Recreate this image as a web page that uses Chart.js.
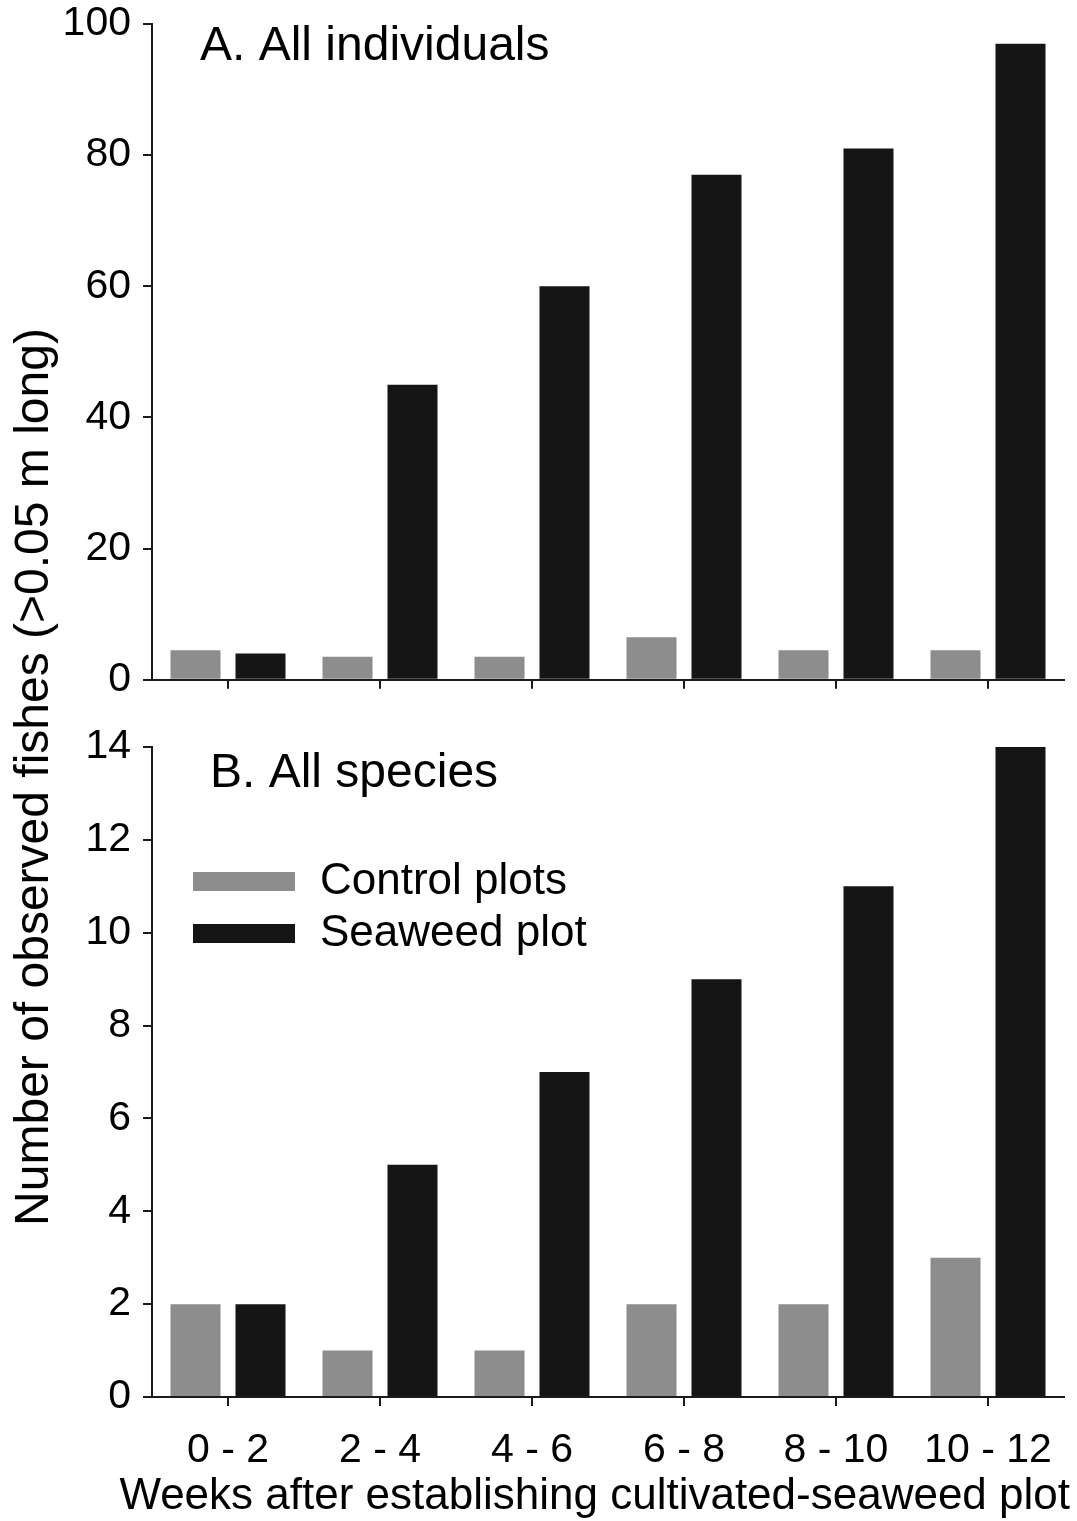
<!DOCTYPE html>
<html>
<head>
<meta charset="utf-8">
<script src="https://cdn.jsdelivr.net/npm/chart.js@4"></script>
<style>
    body{ margin:0; background:#fff; width:1077px; height:1521px; position:relative; overflow:hidden; font-family:"Liberation Sans", Arial, sans-serif; }
    .panel{ position:absolute; left:0; width:1077px; }
    #panelA{ top:0; height:700px; }
    #panelB{ top:700px; height:821px; }
    #yTitle{
        position:absolute; width:1000px; left:-468px; top:753px; height:48px;
        font-size:48px; line-height:48px; text-align:center; color:#000;
        transform:rotate(-90deg); transform-origin:50% 50%; white-space:nowrap;
    }
</style>
</head>
<body>
<div class="panel" id="panelA"><canvas id="chartA"></canvas></div>
<div class="panel" id="panelB"><canvas id="chartB"></canvas></div>
<div id="yTitle">Number of observed fishes (&gt;0.05 m long)</div>
<script>
const weeks = ['0 - 2', '2 - 4', '4 - 6', '6 - 8', '8 - 10', '10 - 12'];
const seriesNames = ['Control plots', 'Seaweed plot'];
const xTitle = 'Weeks after establishing cultivated-seaweed plot';
// A. 개체수
const controlIndividuals = [4.5, 3.5, 3.5, 6.5, 4.5, 4.5];
const seaweedIndividuals = [4, 45, 60, 77, 81, 97];
// B. 종수
const controlSpecies = [2, 1, 1, 2, 2, 3];
const seaweedSpecies = [2, 5, 7, 9, 11, 14];

const FONT = '"Liberation Sans", Arial, sans-serif';
const GRAY = '#8d8d8d';
const BLACK = '#151515';
const AXIS = '#1a1a1a';

Chart.defaults.font.family = FONT;
Chart.defaults.color = '#000';

// 패널 제목 + 범례 + x축 제목 (scale title은 maxWidth로 눌려서 직접 그림)
const panelText = {
    id: 'panelText',
    afterDraw(chart, args, opts){
        const ctx = chart.ctx;
        const area = chart.chartArea;
        ctx.save();
        ctx.fillStyle = '#000';
        ctx.textBaseline = 'alphabetic';
        ctx.font = '48px ' + FONT;
        ctx.fillText(opts.text, area.left + opts.dx, area.top + opts.dy);
        if(opts.legend){
            ctx.font = '44px ' + FONT;
            ctx.textBaseline = 'middle';
            chart.data.datasets.forEach((ds, i) => {
                const y = area.top + 134 + i * 52;
                ctx.fillStyle = ds.backgroundColor;
                ctx.fillRect(area.left + 41, y - 9, 102, 19);
                ctx.fillStyle = '#000';
                ctx.fillText(ds.label, area.left + 168, y + 1);
            });
        }
        if(opts.xTitle){
            ctx.font = '44px ' + FONT;
            ctx.textBaseline = 'middle';
            ctx.textAlign = 'right';
            ctx.fillStyle = '#000';
            ctx.fillText(opts.xTitle, area.right + 6, area.bottom + 100);
        }
        ctx.restore();
    }
};

class Panel{
    constructor(canvasName, control, seaweed, yMax, step){
        this.ctx = document.getElementById(canvasName).getContext('2d');
        this.control = control;
        this.seaweed = seaweed;
        this.yMax = yMax;
        this.step = step;
        this.showLabels = false;
        this.padTop = 24;
        this.xHeight = 20;
        this.title = '';
        this.titleDx = 48;
        this.titleDy = 36;
        this.legend = false;
    }
    draw(){
        const showLabels = this.showLabels;
        const xHeight = this.xHeight;
        const barSet = {
            categoryPercentage: 0.855,
            barPercentage: 0.77,
            borderWidth: 0
        };
        this.chart = new Chart(this.ctx, {
            type: 'bar',
            data: {
                labels: weeks,
                datasets: [
                    Object.assign({ label: seriesNames[0], data: this.control, backgroundColor: GRAY }, barSet),
                    Object.assign({ label: seriesNames[1], data: this.seaweed, backgroundColor: BLACK }, barSet)
                ]
            },
            options: {
                responsive: true,
                maintainAspectRatio: false,
                animation: false,
                layout: { padding: { top: this.padTop, right: 13, left: 0, bottom: 0 } },
                scales: {
                    x: {
                        grid: { offset: false, drawOnChartArea: false, drawTicks: true, tickLength: 9, color: AXIS, lineWidth: 2 },
                        border: { display: true, color: AXIS, width: 2 },
                        ticks: {
                            font: { size: 41, lineHeight: 1 },
                            color: '#000',
                            padding: 24,
                            maxRotation: 0,
                            autoSkip: false,
                            callback: function(v){ return showLabels ? this.getLabelForValue(v) : ''; }
                        },
                        afterFit: (scale) => { scale.height = xHeight; }
                    },
                    y: {
                        min: 0,
                        max: this.yMax,
                        grid: { drawOnChartArea: false, drawTicks: true, tickLength: 9, color: AXIS, lineWidth: 2 },
                        border: { display: true, color: AXIS, width: 2 },
                        ticks: { stepSize: this.step, font: { size: 41, lineHeight: 0.4 }, color: '#000', padding: 12 },
                        afterFit: (scale) => { scale.width = 152; }
                    }
                },
                plugins: {
                    legend: { display: false },
                    tooltip: { enabled: false },
                    panelText: {
                        text: this.title, dx: this.titleDx, dy: this.titleDy,
                        legend: this.legend, xTitle: showLabels ? xTitle : ''
                    }
                }
            },
            plugins: [panelText]
        });
    }
}

const chartA = new Panel('chartA', controlIndividuals, seaweedIndividuals, 100, 20);
chartA.title = 'A. All individuals';
chartA.padTop = 24;
chartA.xHeight = 17;
chartA.titleDx = 48;
chartA.titleDy = 36;
chartA.draw();

const chartB = new Panel('chartB', controlSpecies, seaweedSpecies, 14, 2);
chartB.title = 'B. All species';
chartB.showLabels = true;
chartB.padTop = 47;
chartB.xHeight = 124;
chartB.titleDx = 58;
chartB.titleDy = 40;
chartB.legend = true;
chartB.draw();
</script>
</body>
</html>
